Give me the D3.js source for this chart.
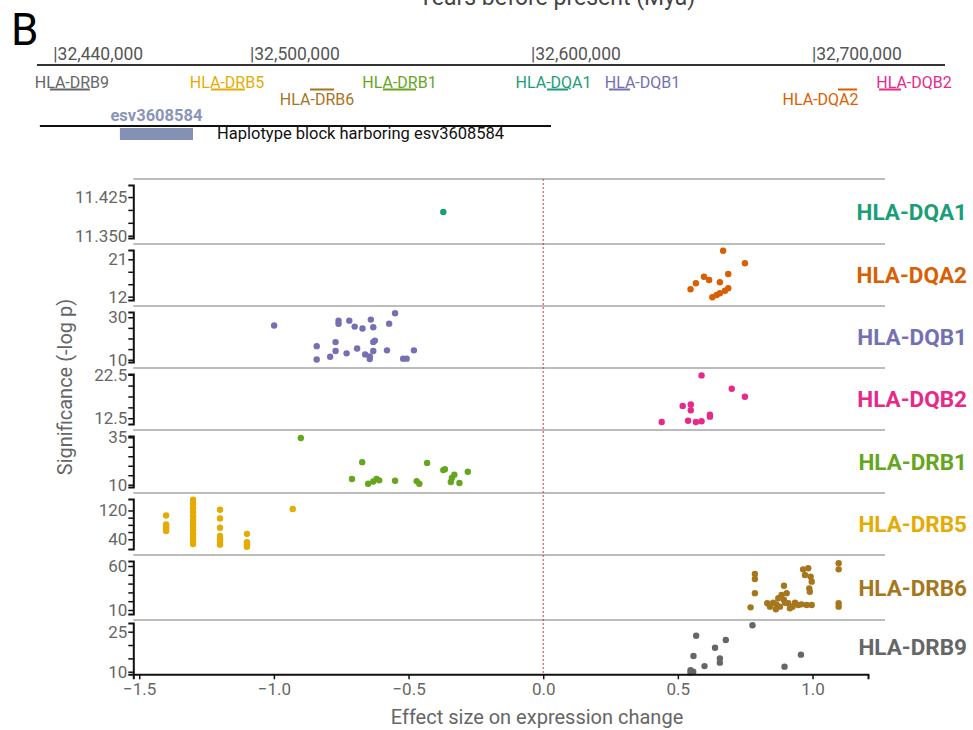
<!DOCTYPE html>
<html>
<head>
<meta charset="utf-8">
<script src="https://cdn.jsdelivr.net/npm/d3@7"></script>
<style>
  body { margin: 0; background: #fff; }
  text { font-family: Roboto, "Noto Sans", sans-serif; }
</style>
</head>
<body>
<div id="chart"></div>
<script>
// Genes (one facet each) and their colours
var genes = ["HLA-DQA1", "HLA-DQA2", "HLA-DQB1", "HLA-DQB2", "HLA-DRB1", "HLA-DRB5", "HLA-DRB6", "HLA-DRB9"];
var geneColors = ["#1b9e77", "#d95f02", "#7570b3", "#e7298a", "#66a61e", "#e6ab02", "#a6761d", "#666666"];

// Gene positions on chr6 (bp), same order as genes
var geneStart = [32605000, 32708550, 32627050, 32723150, 32546600, 32485400, 32520650, 32428100];
var geneEnd   = [32612450, 32715300, 32634500, 32730950, 32558350, 32497500, 32529200, 32442300];

// Genome track ticks
var genomeTicks = [32430000, 32500000, 32600000, 32700000];
var genomeTickLabels = ["32,440,000", "32,500,000", "32,600,000", "32,700,000"];
var esvRegion = [32453000, 32479000];
var haplotypeBlock = [32424500, 32606400];

// Effect size axis
var effectTicks = [-1.5, -1.0, -0.5, 0.0, 0.5, 1.0];

// Per-facet y axis: labelled breaks, their labels, minor tick step, visible range
var yBreaks = [[11.35, 11.425], [12, 21], [10, 30], [12.5, 22.5], [10, 35], [40, 120], [10, 60], [10, 25]];
var yBreakLabels = [["11.350", "11.425"], ["12", "21"], ["10", "30"], ["12.5", "22.5"], ["10", "35"], ["40", "120"], ["10", "60"], ["10", "25"]];
var yMinorStep = [0.025, 3, 5, 2.5, 5, 20, 10, 5];
var yDomains = [[11.3455, 11.4484], [11.2, 23.24], [8.92, 32.48], [11.18, 22.66], [8.79, 35.68], [12.9, 151.9], [5.45, 65.7], [9.03, 28.26]];

// Points: [effect size, -log p]
var dqa1 = [[-0.371, 11.396]];
var dqa2 = [[0.668, 23.07], [0.749, 20.04], [0.687, 17.46], [0.597, 16.81], [0.616, 16.02], [0.567, 15.23],
  [0.656, 15.47], [0.547, 13.78], [0.687, 14.02], [0.675, 13.44], [0.656, 12.82], [0.644, 12.41], [0.628, 11.86]];
var dqb1 = [[-0.999, 26.1], [-0.550, 31.9], [-0.572, 27.0], [-0.640, 28.9], [-0.631, 25.3], [-0.720, 28.4],
  [-0.760, 28.4], [-0.760, 26.9], [-0.700, 25.6], [-0.671, 24.7], [-0.625, 19.0], [-0.631, 18.3], [-0.771, 18.3],
  [-0.841, 16.4], [-0.691, 15.3], [-0.771, 14.1], [-0.730, 13.0], [-0.631, 14.1], [-0.661, 12.5], [-0.644, 11.5],
  [-0.644, 10.3], [-0.580, 14.4], [-0.480, 14.4], [-0.791, 11.4], [-0.841, 10.1], [-0.520, 10.5], [-0.507, 10.5]];
var dqb2 = [[0.588, 22.34], [0.700, 19.27], [0.749, 17.42], [0.518, 15.34], [0.548, 15.64], [0.548, 14.34],
  [0.619, 13.33], [0.619, 12.87], [0.440, 11.64], [0.538, 11.94], [0.567, 11.64], [0.588, 11.8]];
var drb1 = [[-0.900, 34.6], [-0.672, 21.9], [-0.431, 21.5], [-0.365, 18.2], [-0.371, 17.7], [-0.280, 16.8],
  [-0.330, 15.3], [-0.339, 13.5], [-0.343, 11.4], [-0.311, 10.9], [-0.710, 13.0], [-0.650, 10.5], [-0.631, 11.7],
  [-0.619, 13.1], [-0.609, 12.3], [-0.550, 12.1], [-0.470, 11.9], [-0.460, 10.5]];
var drb5 = [[-1.40, 106], [-1.40, 81], [-1.40, 75], [-1.40, 70], [-1.40, 63],
  [-1.30, 150], [-1.30, 138], [-1.30, 126], [-1.30, 115], [-1.30, 104], [-1.30, 94], [-1.30, 84],
  [-1.30, 74], [-1.30, 64], [-1.30, 54], [-1.30, 44], [-1.30, 35], [-1.30, 27],
  [-1.20, 122], [-1.20, 98], [-1.20, 72], [-1.20, 49], [-1.20, 41], [-1.20, 33], [-1.20, 25],
  [-1.10, 55], [-1.10, 32], [-1.10, 25], [-1.10, 19], [-0.93, 124]];
var drb6 = [[1.097, 63.1], [1.097, 56.2], [1.097, 17.6], [1.097, 13.8], [0.965, 56.2], [0.984, 57.4],
  [0.972, 49.8], [0.993, 47.8], [0.997, 42.2], [0.988, 34.6], [0.990, 30.8], [0.786, 50.9], [0.786, 45.2],
  [0.786, 29.0], [0.770, 13.0], [0.894, 37.6], [0.832, 17.6], [0.854, 18.3], [0.866, 16.4], [0.873, 23.3],
  [0.885, 27.0], [0.894, 21.3], [0.904, 29.0], [0.910, 17.6], [0.916, 11.9], [0.926, 13.8], [0.935, 18.3],
  [0.947, 15.7], [0.959, 16.4], [0.978, 15.7], [0.997, 15.7], [0.864, 10.8], [0.842, 13.8], [0.879, 13.8],
  [0.898, 18.3]];
var drb9 = [[0.777, 27.4], [0.568, 23.5], [0.678, 21.9], [0.638, 19.0], [0.558, 15.9], [0.656, 15.0],
  [0.656, 13.4], [0.599, 12.1], [0.957, 16.4], [0.896, 11.9], [0.547, 10.6], [0.557, 10.0], [0.547, 9.7]];
var points = [dqa1, dqa2, dqb1, dqb2, drb1, drb5, drb6, drb9];

document.addEventListener("DOMContentLoaded", function () {
  var w = 973, h = 730;

  var svg = d3.select("#chart").append("svg")
    .attr("width", w)
    .attr("height", h);

  // ---------- top: genome track ----------
  svg.append("text")
    .attr("x", 557).attr("y", 5)
    .attr("text-anchor", "middle")
    .attr("font-size", 23)
    .attr("fill", "#444")
    .text("Years before present (Mya)");

  svg.append("text")
    .attr("x", 11).attr("y", 45)
    .attr("font-size", 44)
    .attr("fill", "#000")
    .text("B");

  var gScale = d3.scaleLinear()
    .domain([32500000, 32700000])
    .range([252, 814]);

  svg.append("line")
    .attr("x1", 37).attr("x2", 945)
    .attr("y1", 65).attr("y2", 65)
    .attr("stroke", "#333").attr("stroke-width", 2);

  svg.selectAll(".gtick")
    .data(genomeTicks)
    .enter().append("text")
    .attr("class", "gtick")
    .attr("x", d => gScale(d) - 2)
    .attr("y", 60)
    .attr("font-size", 17.5)
    .attr("fill", "#555")
    .text((d, i) => "|" + genomeTickLabels[i]);

  // label rows: 0 = above the bar, 1 = below; pixel shifts for readability
  var labelRow = [0, 1, 0, 0, 0, 0, 1, 0];
  var labelShift = [-4, -27, 23, 24, 0, -1, -5, 2];

  var gene = svg.selectAll(".gene")
    .data(genes)
    .enter().append("g")
    .attr("class", "gene");

  gene.append("rect")
    .attr("x", (d, i) => gScale(geneStart[i]))
    .attr("width", (d, i) => gScale(geneEnd[i]) - gScale(geneStart[i]))
    .attr("y", 88.5)
    .attr("height", 2)
    .attr("fill", (d, i) => geneColors[i]);

  gene.append("text")
    .attr("x", (d, i) => (gScale(geneStart[i]) + gScale(geneEnd[i])) / 2 + labelShift[i])
    .attr("y", (d, i) => labelRow[i] ? 105 : 88)
    .attr("text-anchor", "middle")
    .attr("font-size", 16)
    .attr("fill", (d, i) => geneColors[i])
    .text(d => d);

  svg.append("text")
    .attr("x", (gScale(esvRegion[0]) + gScale(esvRegion[1])) / 2)
    .attr("y", 121)
    .attr("text-anchor", "middle")
    .attr("font-size", 16.5)
    .attr("font-weight", "bold")
    .attr("fill", "#8a94b8")
    .text("esv3608584");

  svg.append("line")
    .attr("x1", gScale(haplotypeBlock[0])).attr("x2", gScale(haplotypeBlock[1]))
    .attr("y1", 126).attr("y2", 126)
    .attr("stroke", "#111").attr("stroke-width", 2);

  svg.append("rect")
    .attr("x", gScale(esvRegion[0]))
    .attr("width", gScale(esvRegion[1]) - gScale(esvRegion[0]))
    .attr("y", 128).attr("height", 12)
    .attr("fill", "#8590b5");

  svg.append("text")
    .attr("x", 217).attr("y", 139)
    .attr("font-size", 16.5)
    .attr("fill", "#111")
    .text("Haplotype block harboring esv3608584");

  // ---------- bottom: faceted effect-size plot ----------
  var left = 133.3, right = 868, lineRight = 885;
  var panelEdges = [179, 244, 306, 368, 430, 493, 555, 620, 674.3];

  var xScale = d3.scaleLinear()
    .domain([-1.522, 1.206])
    .range([left, right]);

  genes.forEach(function (g, i) {
    var top = panelEdges[i], bottom = panelEdges[i + 1];
    var last = i === genes.length - 1;
    var yScale = d3.scaleLinear()
      .domain(yDomains[i])
      .range([last ? bottom : bottom - 6, top + (last ? 3 : 6)]);

    // grey facet separator
    svg.append("line")
      .attr("x1", left).attr("x2", lineRight)
      .attr("y1", top).attr("y2", top)
      .attr("stroke", "#a6a6a6").attr("stroke-width", 1.5);

    var minor = d3.range(yBreaks[i][0], yBreaks[i][1] + yMinorStep[i] / 2, yMinorStep[i]);
    var yAxis = d3.axisLeft(yScale)
      .tickValues(minor)
      .tickSizeOuter(0)
      .tickSize(5)
      .tickFormat(function (d) {
        var k = yBreaks[i].findIndex(b => Math.abs(b - d) < 1e-9);
        return k < 0 ? "" : yBreakLabels[i][k];
      });

    var ax = svg.append("g")
      .attr("transform", "translate(" + left + ",0)")
      .call(yAxis);
    ax.select(".domain").attr("stroke", "#111").attr("stroke-width", 2);
    ax.selectAll(".tick line").attr("stroke", "#111").attr("stroke-width", 1.5);
    ax.selectAll(".tick text")
      .attr("font-size", 17)
      .attr("font-family", "Roboto, sans-serif")
      .attr("fill", "#666")
      .attr("x", -6);

    svg.append("g")
      .selectAll("circle")
      .data(points[i])
      .enter().append("circle")
      .attr("cx", d => xScale(d[0]))
      .attr("cy", d => yScale(d[1]))
      .attr("r", 3.2)
      .attr("fill", geneColors[i]);

    svg.append("text")
      .attr("x", 967)
      .attr("y", (top + bottom) / 2 + 8)
      .attr("text-anchor", "end")
      .attr("font-size", 22.5)
      .attr("font-weight", "bold")
      .attr("fill", geneColors[i])
      .text(g);
  });

  // zero effect reference line
  svg.append("line")
    .attr("x1", xScale(0)).attr("x2", xScale(0))
    .attr("y1", panelEdges[0]).attr("y2", panelEdges[panelEdges.length - 1])
    .attr("stroke", "#e0393e").attr("stroke-width", 1)
    .attr("stroke-dasharray", "2,2");

  // x axis
  var xAxis = d3.axisBottom(xScale)
    .tickValues(effectTicks)
    .tickSizeOuter(0)
    .tickSize(5)
    .tickFormat(d3.format(".1f"));

  var xg = svg.append("g")
    .attr("transform", "translate(0," + panelEdges[panelEdges.length - 1] + ")")
    .call(xAxis);
  xg.select(".domain").attr("stroke", "#111").attr("stroke-width", 2);
  xg.selectAll(".tick line").attr("stroke", "#111").attr("stroke-width", 1.5);
  xg.selectAll(".tick text")
    .attr("font-size", 17)
    .attr("font-family", "Roboto, sans-serif")
    .attr("fill", "#666")
    .attr("y", 9);

  svg.append("text")
    .attr("x", 537).attr("y", 724)
    .attr("text-anchor", "middle")
    .attr("font-size", 20)
    .attr("fill", "#666")
    .text("Effect size on expression change");

  svg.append("text")
    .attr("transform", "translate(72,387) rotate(-90)")
    .attr("text-anchor", "middle")
    .attr("font-size", 20)
    .attr("fill", "#666")
    .text("Significance (-log p)");
});
</script>
</body>
</html>
